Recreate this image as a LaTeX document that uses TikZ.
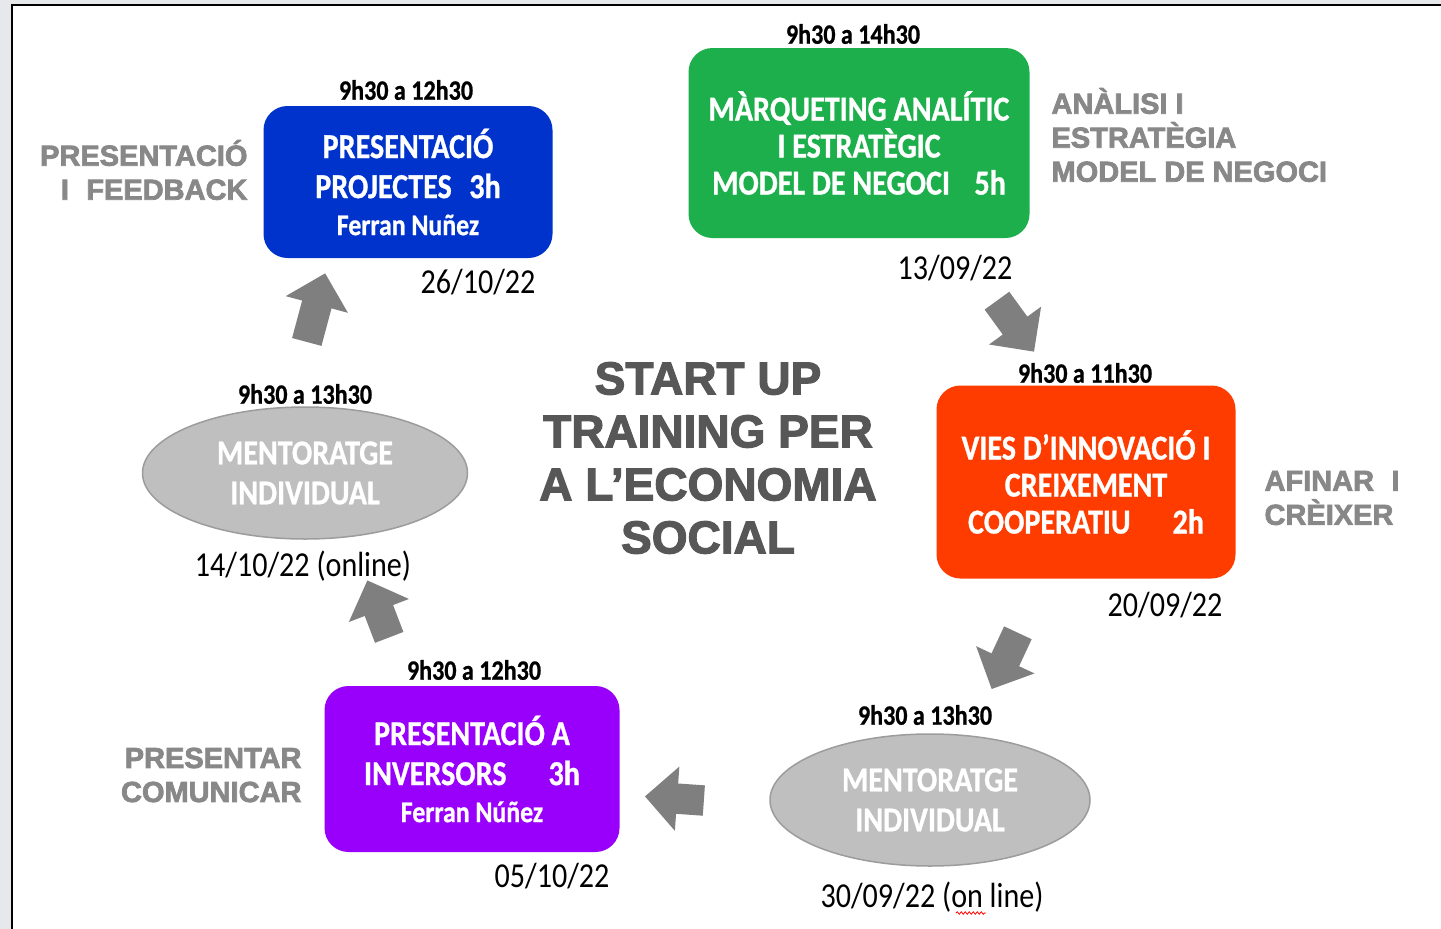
\documentclass[tikz,border=0pt]{standalone}
\usepackage{fontspec}
\setmainfont{Liberation Sans}
\newfontfamily\boxfont[FakeStretch=0.86, BoldFont={Carlito Bold}, BoldFeatures={FakeBold=0.8}]{Carlito}
\newfontfamily\heavyfont[FakeBold=2.5]{Liberation Sans Bold}
\usetikzlibrary{shapes.geometric,shapes.arrows,decorations.pathmorphing}

\definecolor{pagegrey}{HTML}{E6E8EB}
\definecolor{projblue}{HTML}{0033CC}
\definecolor{markgreen}{HTML}{1DAF4B}
\definecolor{viesred}{HTML}{FF3C00}
\definecolor{invpurple}{HTML}{9900FC}
\definecolor{mentorfill}{HTML}{BFBFBF}
\definecolor{mentorline}{HTML}{9C9C9C}
\definecolor{arrowgrey}{HTML}{7F7F7F}
\definecolor{themegrey}{HTML}{888888}
\definecolor{titlegrey}{HTML}{575757}

\tikzset{
  stepbox/.style={rectangle, rounded corners=24, inner sep=0, align=center,
    text=white, font=\boxfont\bfseries\fontsize{35}{37}\selectfont},
  mentorbox/.style={ellipse, fill=mentorfill, draw=mentorline, line width=1.5,
    inner sep=0, align=center, text=white,
    font=\boxfont\bfseries\fontsize{35}{40}\selectfont},
  timelabel/.style={font=\boxfont\bfseries\fontsize{28}{30}\selectfont},
  datelabel/.style={font=\boxfont\fontsize{35}{38}\selectfont},
  themelabel/.style={text=themegrey, font=\heavyfont\fontsize{29}{34}\selectfont},
  flowarrow/.style={single arrow, fill=arrowgrey, inner sep=15,
    single arrow head extend=17, minimum height=#1}
}

\begin{document}
\begin{tikzpicture}[x=1pt,y=-1pt]
\useasboundingbox (0,0) rectangle (1441,929);
\fill[pagegrey] (0,0) rectangle (1441,929);
\fill[white] (12,5) rectangle (1441,929);
\draw[line width=2] (12,929) -- (12,5) -- (1441,5);

% the six sessions
\node[stepbox, fill=projblue, minimum width=289, minimum height=152] (projectes) at (408,182)
  {PRESENTACIÓ\\[3pt]PROJECTES\hspace{0.5em}3h\\{\fontsize{30}{34}\selectfont Ferran Nuñez}};
\node[stepbox, fill=markgreen, minimum width=341, minimum height=190] (marqueting) at (859,143)
  {MÀRQUETING ANALÍTIC\\I ESTRATÈGIC\\MODEL DE NEGOCI\hspace{0.7em}5h};
\node[stepbox, fill=viesred, minimum width=299, minimum height=193] (vies) at (1086,482)
  {VIES D’INNOVACIÓ I\\CREIXEMENT\\COOPERATIU\hspace{1.2em}2h};
\node[mentorbox, minimum width=320, minimum height=132] (mentorB) at (930,800)
  {MENTORATGE\\INDIVIDUAL};
\node[stepbox, fill=invpurple, minimum width=295, minimum height=166] (inversors) at (472,769)
  {PRESENTACIÓ A\\[3pt]INVERSORS\hspace{1.2em}3h\\{\fontsize{30}{34}\selectfont Ferran Núñez}};
\node[mentorbox, minimum width=325, minimum height=132] (mentorA) at (305,473)
  {MENTORATGE\\INDIVIDUAL};

% hours
\node[timelabel] (tprojectes) at (406,90) {9h30 a 12h30};
\node[timelabel] (tmarqueting) at (853,34) {9h30 a 14h30};
\node[timelabel] (tvies) at (1085,373) {9h30 a 11h30};
\node[timelabel] (tmentorB) at (925,715) {9h30 a 13h30};
\node[timelabel] (tinversors) at (474,670) {9h30 a 12h30};
\node[timelabel] (tmentorA) at (305,394) {9h30 a 13h30};

% dates
\node[datelabel] (dprojectes) at (478,282) {26/10/22};
\node[datelabel] (dmarqueting) at (955,268) {13/09/22};
\node[datelabel] (dvies) at (1165,605) {20/09/22};
\node[datelabel] (dmentorB) at (932,897) {30/09/22 (on line)};
\node[datelabel] (dinversors) at (552,876) {05/10/22};
\node[datelabel] (dmentorA) at (303,566) {14/10/22 (online)};
\draw[red, line width=0.8, decorate, decoration={snake, amplitude=1.2, segment length=4}]
  (956,913) -- (986,913);

% themes
\node[themelabel, anchor=east, align=right] (feedback) at (251,170) {PRESENTACIÓ\\I\hspace{0.6em}FEEDBACK};
\node[themelabel, anchor=west, align=left] (analisi) at (1048,135) {ANÀLISI I\\ESTRATÈGIA\\MODEL DE NEGOCI};
\node[themelabel, anchor=west, align=left] (afinar) at (1261,498) {AFINAR\hspace{0.6em}I\\CRÈIXER};
\node[themelabel, anchor=east, align=right] (comunicar) at (305,775) {PRESENTAR\\COMUNICAR};

\node[text=titlegrey, align=center, font=\heavyfont\fontsize{46}{53}\selectfont] (titol) at (708,458)
  {START UP\\TRAINING PER\\A L’ECONOMIA\\SOCIAL};

% arrows round the cycle
\foreach \n/\x/\y/\a/\l in {arA/314/315/75/71, arB/1011/320/-54/63, arC/1008/654/-115/62,
    arD/682/799/176/59, arE/381/616/111/61}
  \node[flowarrow=\l, rotate=\a] (\n) at (\x,\y) {};
\end{tikzpicture}
\end{document}
